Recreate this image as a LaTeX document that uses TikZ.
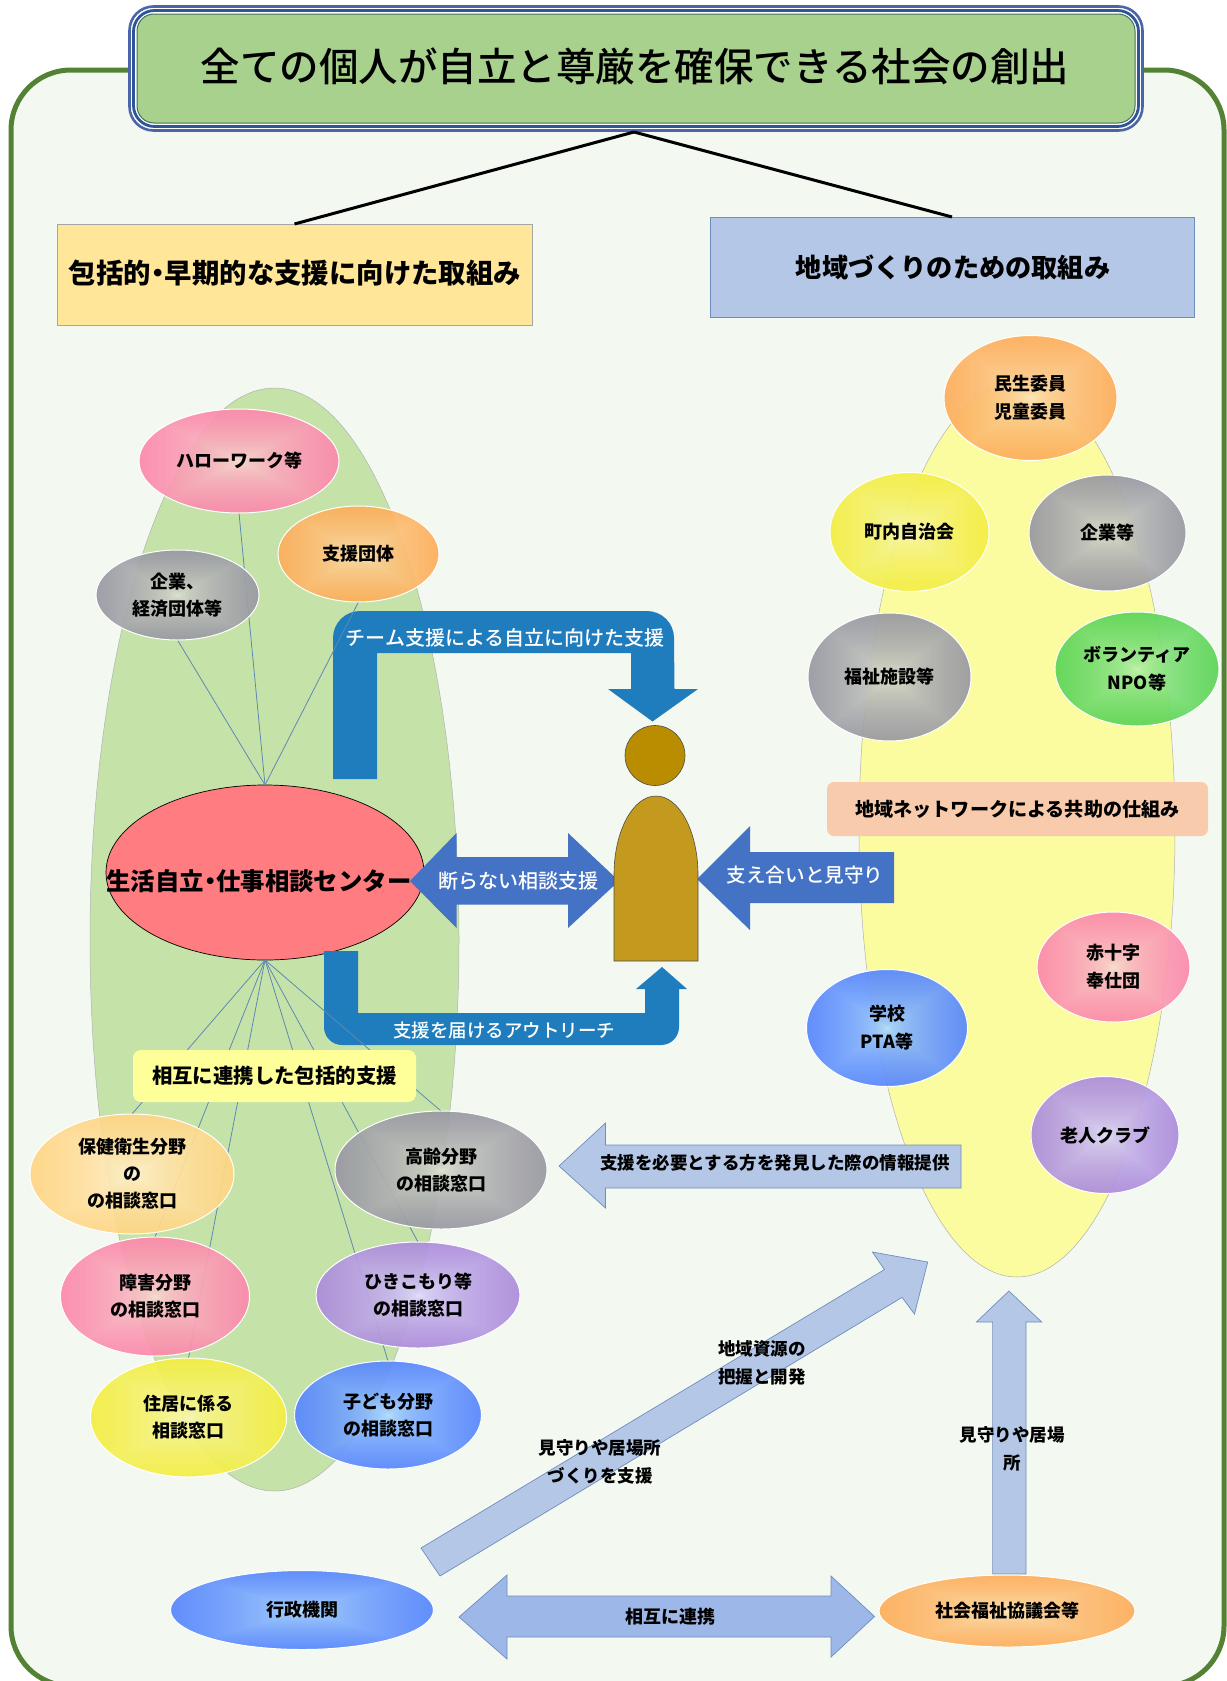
\documentclass[tikz,border=0pt]{standalone}
\usepackage{fontspec}
\usetikzlibrary{shapes.geometric,shadings}
\setmainfont{Noto Sans CJK JP}[BoldFont={Noto Sans CJK JP Black}]
\newfontfamily\medcjk{Noto Sans CJK JP Medium}
\pgfdeclarelayer{bg}\pgfdeclarelayer{red}\pgfdeclarelayer{arrows}\pgfdeclarelayer{conn}
\pgfsetlayers{bg,red,arrows,conn,main}
% rectangular path gradient: #1 name, #2-#4 centre rgb, #5-#7 outer-centre rgb difference
\newcommand{\mkrect}[7]{\pgfdeclarefunctionalshading{#1}{\pgfpointorigin}{\pgfpoint{100bp}{100bp}}{}{
 50 sub abs exch 50 sub abs 2 copy sub abs add add 100 div sqrt
 dup #5 mul #2 add exch dup #6 mul #3 add exch #7 mul #4 add }}
\mkrect{spink}{0.96}{0.90}{0.84}{0.04}{-0.52}{-0.24}
\mkrect{sorange}{0.98}{0.92}{0.76}{0.02}{-0.34}{-0.58}
\mkrect{slorange}{1.0}{0.97}{0.88}{0.0}{-0.19}{-0.52}
\mkrect{sgrey}{0.90}{0.92}{0.84}{-0.43}{-0.46}{-0.29}
\mkrect{syellow}{0.97}{0.97}{0.78}{-0.02}{-0.05}{-0.74}
\mkrect{sblue}{0.72}{0.90}{0.98}{-0.54}{-0.53}{0.02}
\mkrect{spurple}{0.90}{0.90}{1.0}{-0.32}{-0.50}{-0.20}
\mkrect{sgreen}{0.78}{0.96}{0.72}{-0.60}{-0.18}{-0.54}
\definecolor{frameg}{HTML}{548235}
\definecolor{framef}{HTML}{F3F8F1}
\definecolor{titleb}{HTML}{2F5597}
\definecolor{titleo}{HTML}{4A66A8}
\definecolor{titlef}{HTML}{A9D18E}
\definecolor{gbig}{HTML}{C5E3A8}
\definecolor{ybig}{HTML}{FBFB9F}
\definecolor{teal}{HTML}{1F7DBD}
\definecolor{mblue}{HTML}{4472C4}
\definecolor{lblue}{HTML}{B4C7E7}
\definecolor{lbline}{HTML}{6E8EBE}
\definecolor{dblue}{HTML}{9DB7E8}
\definecolor{fanline}{HTML}{5F88B4}
\definecolor{lboxf}{HTML}{FFE699}
\definecolor{sogof}{HTML}{FFFF99}
\definecolor{netf}{HTML}{F8CBAD}
\definecolor{headf}{HTML}{BA8C00}
\definecolor{bodyf}{HTML}{C49A1E}
\definecolor{redf}{HTML}{FF7C80}
\tikzset{
  x=1pt,y=-1pt,
  oval/.style n args={4}{ellipse,draw=white,line width=1pt,inner sep=0pt,outer sep=0pt,
    shade,shading=#1,fill opacity=.92,draw opacity=1,text opacity=1,
    minimum width=2*#2 pt,minimum height=2*#3 pt,align=center,
    font=\fontsize{18}{#4}\selectfont\bfseries},
  bigoval/.style={ellipse,draw=gray!60,line width=.5pt,inner sep=0pt,outer sep=0pt},
  box/.style={rectangle,inner sep=0pt,outer sep=0pt,align=center},
  lab/.style={inner sep=0pt,outer sep=0pt,align=center,font=\fontsize{#1}{#1}\selectfont\bfseries},
  wlab/.style={inner sep=0pt,outer sep=0pt,align=center,text=white,font=\fontsize{#1}{#1}\selectfont\medcjk},
  mlab/.style={inner sep=0pt,outer sep=0pt,align=center,font=\fontsize{17.5}{28}\selectfont\bfseries},
  fan/.style={draw=fanline,line width=.8pt},
  conn/.style={draw=black,line width=3pt},
  lb/.style={draw=lbline,line width=.7pt,fill=lblue},
}
\begin{document}
\begin{tikzpicture}
\useasboundingbox (0,0) rectangle (1226,1681);
\begin{pgfonlayer}{bg}
\fill[white] (0,0) rectangle (1226,1681);
\draw[frameg,fill=framef,line width=5pt,rounded corners=60pt] (11,70) rectangle (1224,1686);
\node[bigoval,fill=gbig,minimum width=369pt,minimum height=1103pt] (greenbig) at (274.5,939.5) {};
\node[bigoval,fill=ybig,minimum width=316pt,minimum height=894pt] (yellowbig) at (1017,830) {};
\end{pgfonlayer}
% title
\draw[titleo,line width=2.6pt,rounded corners=24pt,fill=white] (129.5,6.5) rectangle (1142.5,130.5);
\draw[titleb,line width=2.8pt,rounded corners=21pt,fill=white] (133.5,10.5) rectangle (1138.5,126.5);
\node[box,rounded corners=17pt,draw=frameg!60!titleb,line width=1pt,fill=titlef,minimum width=998pt,minimum height=109pt] (title) at (636,68.5) {};
\node[inner sep=0pt,font=\fontsize{39.5}{39.5}\selectfont\medcjk] (titletext) at (635,66) {全ての個人が自立と尊厳を確保できる社会の創出};
\coordinate (titlefoot) at (634,132);
\node[box,draw=gray!70,line width=1pt,minimum width=475pt,minimum height=101pt,fill=lboxf] (leftbox) at (294.5,274.5) {};
\node[lab=27.4] (lefttext) at (295,273) {包括的\kern-.25em ・\kern-.25em 早期的な支援に向けた取組み};
\node[box,draw=lbline,line width=.8pt,minimum width=484pt,minimum height=100pt,fill=lblue] (rightbox) at (952,267) {};
\node[lab=26.2] (righttext) at (953,267) {地域づくりのための取組み};
\draw[conn] (titlefoot) -- (leftbox.north);
\draw[conn] (titlefoot) -- (rightbox.north);
% red centre
\begin{pgfonlayer}{red}
\node[ellipse,draw=black,line width=.7pt,fill=redf,inner sep=0pt,outer sep=0pt,minimum width=318pt,minimum height=175pt] (center) at (265,872.5) {};
\end{pgfonlayer}
\node[lab=24.4] (centertext) at (259,881) {生活自立\kern-.25em ・\kern-.25em 仕事相談センター};
% arrows
\begin{pgfonlayer}{arrows}
\fill[teal] (333,779) -- (333,638) arc[start angle=180,end angle=270,radius=27] -- (647,611) arc[start angle=-90,end angle=0,radius=27] -- (674.5,689) -- (698,689) -- (652.5,721.5) -- (608,689) -- (631,689) -- (631,653) -- (377,653) -- (377,779) -- cycle;
\fill[mblue] (410,881) -- (456.5,833) -- (456.5,857) -- (568,857) -- (568,833) -- (619,881) -- (568,928) -- (568,904.5) -- (456.5,904.5) -- (456.5,928) -- cycle;
\fill[mblue] (697,879) -- (750,826) -- (750,852) -- (894,852) -- (894,903) -- (750,903) -- (750,930) -- cycle;
\fill[teal] (324,951) -- (358,951) -- (358,1013) -- (645,1013) -- (645,989) -- (636,989) -- (662,967) -- (687,989) -- (679,989) -- (679,1027) arc[start angle=0,end angle=90,radius=18] -- (342,1045) arc[start angle=90,end angle=180,radius=18] -- cycle;
\path[lb] (559,1166) -- (605.5,1123) -- (605.5,1145) -- (961,1145) -- (961,1188) -- (605.5,1188) -- (605.5,1208) -- cycle;
\path[lb] (421,1548) -- (884.4,1269.6) -- (872.4,1252) -- (927.7,1262) -- (914.5,1314) -- (902,1297.4) -- (440,1576) -- cycle;
\path[lb] (1008.9,1291) -- (1041.7,1322) -- (1026,1322) -- (1026,1574) -- (992.6,1574) -- (992.6,1322) -- (976.4,1322) -- cycle;
\path[draw=lbline,line width=.7pt,fill=dblue] (459,1617) -- (507,1575) -- (507,1596) -- (831,1596) -- (831,1576) -- (874.5,1616.5) -- (831,1657) -- (831,1637) -- (507,1637) -- (507,1659) -- cycle;
\end{pgfonlayer}
\node[wlab=20] (l1) at (505,637.5) {チーム支援による自立に向けた支援};
\node[wlab=20] (l2) at (518,881) {断らない相談支援};
\node[wlab=19.6] (l3) at (805,875) {支え合いと見守り};
\node[wlab=18.5] (l4) at (504,1030) {支援を届けるアウトリーチ};
\node[lab=17.5] (l5) at (775,1163) {支援を必要とする方を発見した際の情報提供};
\node[lab=18] (l6) at (670,1617) {相互に連携};
\node[mlab] (l7) at (600,1462) {見守りや居場所\\づくりを支援};
\node[mlab] (l8) at (762,1363) {地域資源の\\把握と開発};
\node[mlab] (l9) at (1012,1449) {見守りや居場\\所};
% person
\node[circle,draw=black!70,line width=.6pt,fill=headf,inner sep=0pt,minimum size=60pt] (head) at (655,755.5) {};
\draw[black!70,line width=.6pt,fill=bodyf] (614,961) -- (614,875) arc[start angle=180,end angle=0,x radius=42,y radius=-79] -- (698,961) -- cycle;
% left ovals
\node[oval={spink}{100}{52}{26}] (hw) at (239,461) {ハローワーク等};
\node[oval={sorange}{80.5}{48}{26}] (shien) at (358.5,554) {支援団体};
\node[oval={sgrey}{81.5}{45}{27}] (kigyo) at (177.5,595) {企業、\\経済団体等};
\node[oval={slorange}{102}{60}{27}] (hoken) at (132,1174) {保健衛生分野\\の\\の相談窓口};
\node[oval={spink}{94.5}{59.5}{27}] (shogai) at (155,1296.5) {障害分野\\の相談窓口};
\node[oval={syellow}{98}{59.5}{27}] (jukyo) at (188.5,1417.5) {住居に係る\\相談窓口};
\node[oval={sgrey}{106}{59}{27}] (korei) at (441,1170) {高齢分野\\の相談窓口};
\node[oval={spurple}{102}{53}{27}] (hiki) at (418,1295) {ひきこもり等\\の相談窓口};
\node[oval={sblue}{93.5}{54}{27}] (kodomo) at (388,1415) {子ども分野\\の相談窓口};
\node[oval={sblue}{131.5}{39.5}{27}] (gyosei) at (302,1610) {行政機関};
% right ovals
\node[oval={sorange}{86.5}{62.5}{28}] (minsei) at (1030.5,398) {民生委員\\児童委員};
\node[oval={syellow}{79.5}{59.5}{28}] (chonai) at (909.5,532) {町内自治会};
\node[oval={sgrey}{78.5}{58}{28}] (kigyo2) at (1107.5,533) {企業等};
\node[oval={sgrey}{81.5}{64}{28}] (fukushi) at (889.5,677) {福祉施設等};
\node[oval={sgreen}{82}{57}{28}] (vol) at (1137,669) {ボランティア\\NPO等};
\node[oval={spink}{76.5}{55}{28}] (seki) at (1113.5,967) {赤十字\\奉仕団};
\node[oval={sblue}{80.5}{58.5}{28}] (pta) at (887,1028) {学校\\PTA等};
\node[oval={spurple}{74}{58.5}{28}] (rojin) at (1105,1135) {老人クラブ};
\node[oval={sorange}{128}{36}{28}] (shakyo) at (1007,1611) {社会福祉協議会等};
% labels
\node[box,rounded corners=8pt,fill=sogof,minimum width=283pt,minimum height=52pt,font=\fontsize{20.4}{20.4}\selectfont\bfseries] (sogo) at (274.5,1076) {相互に連携した包括的支援};
\node[box,rounded corners=7pt,fill=netf,minimum width=381pt,minimum height=54pt,font=\fontsize{19.1}{19.1}\selectfont\bfseries] (net) at (1017.5,809) {地域ネットワークによる共助の仕組み};
% fan connectors
\begin{pgfonlayer}{conn}
\foreach \t in {hw,shien,kigyo} \draw[fan] (\t.south) -- (center.north);
\foreach \t in {hoken,shogai,jukyo,korei,hiki,kodomo} \draw[fan] (center.south) -- (\t.north);
\end{pgfonlayer}
\end{tikzpicture}
\end{document}
